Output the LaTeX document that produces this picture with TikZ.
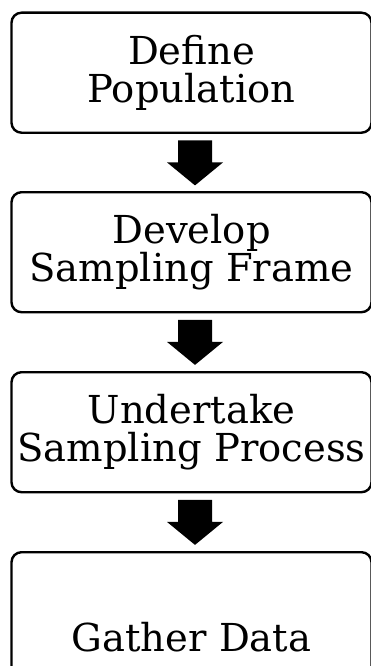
\documentclass[tikz,border=0pt]{standalone}
\usepackage{fontspec}
\setmainfont{DejaVu Serif}
\begin{document}
\begin{tikzpicture}[x=1pt,y=-1pt,
  stepbox/.style={draw=black, line width=2.4pt, rounded corners=10pt,
    minimum width=360pt, minimum height=120pt, inner sep=0pt,
    align=center, anchor=north,
    font=\fontsize{38.5pt}{38pt}\selectfont},
  blockarrow/.pic={\fill[black] (-17,0) -- (17,0) -- (17,22) -- (28,22)
    -- (0,45) -- (-28,22) -- (-17,22) -- cycle;}
  ]
\useasboundingbox (0,0) rectangle (371,666);
\clip (0,0) rectangle (371,666);

% process steps
\node[stepbox] (define) at (191.5,11.5) {Define\\Population};
\node[stepbox] (frame) at (191.5,191) {Develop\\Sampling Frame};
\node[stepbox] (process) at (191.5,371) {Undertake\\Sampling Process};
\node[stepbox, minimum height=170pt] (gather) at (191.5,551) {Gather Data};

% block arrows between the steps
\path (define.south) ++(3.5,6.5) pic {blockarrow};
\path (frame.south) ++(3.5,6.5) pic {blockarrow};
\path (process.south) ++(3.5,6.5) pic {blockarrow};
\end{tikzpicture}
\end{document}
